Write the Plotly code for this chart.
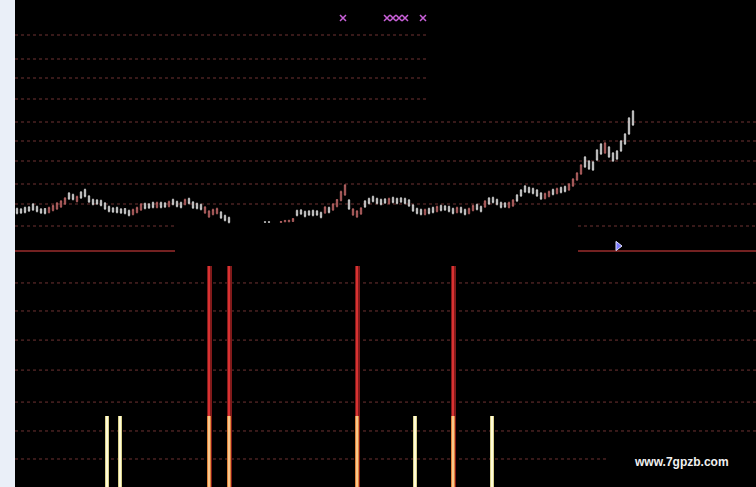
import plotly.graph_objects as go

# ---------------- data ----------------
idx = list(range(155))
N = None
opens = [9.15, 9.1, 9.25, 9.3, 9.6, 9.35, 9.1, 9.15, 8.75, 8.95,
         9.1, 9.3, 9.6, 10.7, 10.55, 9.85, 10.8, 11.05, 10.4, 10.05,
         10.0, 9.95, 9.7, 9.35, 9.2, 9.25, 9.1, 9.15, 8.95, 8.55,
         8.75, 9.0, 9.65, 9.6, 9.75, 9.25, 9.75, 9.7, 9.35, 10.05,
         9.85, 9.75, 9.55, 10.15, 9.8, 9.65, 9.55, 8.7, 8.3, 8.55,
         8.65, 8.8, 8.45, 8.25, N, N, N, N, N, N,
         N, N, 7.82, 7.82, N, N, 7.75, 7.82, 7.82, 7.85,
         8.95, 9.0, 8.85, 8.9, 8.95, 8.9, 8.75, 8.7, 9.25, 9.0,
         9.35, 9.95, 10.5, 10.0, 8.5, 8.3, 8.6, 9.9, 10.15, 10.35,
         10.15, 10.05, 10.1, 9.65, 10.25, 10.15, 10.2, 10.15, 10.0, 9.5,
         9.15, 9.05, 8.55, 9.15, 9.25, 8.85, 9.45, 9.4, 9.35, 9.15,
         8.75, 9.25, 9.05, 8.65, 8.95, 9.55, 9.35, 9.3, 10.2, 10.25,
         10.05, 9.75, 9.7, 9.25, 9.4, 10.5, 11.0, 11.4, 11.25, 11.15,
         11.0, 10.7, 10.15, 10.35, 11.05, 10.65, 11.25, 11.35, 11.0, 11.4,
         12.0, 12.6, 14.3, 13.9, 13.8, 15.0, 15.6, 14.7, 15.3, 14.7,
         14.9, 15.9, 16.6, 18.2, 18.9]
highs = [9.25, 9.2, 9.35, 9.4, 9.7, 9.45, 9.2, 9.2, 9.35, 9.55,
         9.8, 10.0, 10.3, 10.8, 10.65, 10.45, 10.9, 11.15, 10.5, 10.15,
         10.1, 10.05, 9.8, 9.45, 9.3, 9.35, 9.2, 9.2, 9.05, 9.15,
         9.35, 9.7, 9.75, 9.7, 9.85, 9.85, 9.85, 9.8, 9.95, 10.15,
         9.95, 9.85, 10.15, 10.25, 9.9, 9.75, 9.65, 9.4, 9.0, 9.15,
         9.25, 8.9, 8.55, 8.35, N, N, N, N, N, N,
         N, N, 7.85, 7.85, N, N, 7.9, 8.0, 8.0, 8.2,
         9.05, 9.1, 8.95, 9.0, 9.05, 9.0, 8.85, 9.4, 9.35, 9.7,
         10.1, 10.95, 11.6, 10.1, 9.2, 9.0, 9.3, 10.0, 10.25, 10.45,
         10.25, 10.15, 10.2, 10.25, 10.35, 10.25, 10.3, 10.25, 10.1, 9.6,
         9.25, 9.15, 9.15, 9.25, 9.35, 9.45, 9.55, 9.5, 9.45, 9.25,
         9.35, 9.35, 9.15, 9.25, 9.55, 9.65, 9.45, 10.0, 10.3, 10.35,
         10.15, 9.85, 9.8, 9.85, 10.1, 10.6, 11.1, 11.5, 11.35, 11.25,
         11.1, 10.8, 10.75, 10.95, 11.15, 11.25, 11.35, 11.45, 11.7, 12.2,
         12.8, 13.6, 14.4, 14.0, 13.9, 15.1, 15.7, 15.8, 15.4, 14.8,
         15.0, 16.0, 16.7, 18.3, 19.0]
lows = [8.55, 8.6, 8.65, 8.8, 8.9, 8.75, 8.6, 8.55, 8.65, 8.85,
        9.0, 9.2, 9.5, 10.0, 9.95, 9.75, 10.1, 10.25, 9.7, 9.45,
        9.5, 9.35, 9.0, 8.75, 8.7, 8.65, 8.6, 8.55, 8.35, 8.45,
        8.65, 8.9, 9.05, 9.1, 9.15, 9.15, 9.15, 9.2, 9.25, 9.45,
        9.25, 9.15, 9.45, 9.55, 9.1, 9.05, 8.95, 8.6, 8.2, 8.45,
        8.55, 8.1, 7.85, 7.65, N, N, N, N, N, N,
        N, N, 7.75, 7.75, N, N, 7.7, 7.78, 7.78, 7.8,
        8.35, 8.5, 8.25, 8.4, 8.35, 8.4, 8.15, 8.6, 8.65, 8.9,
        9.25, 9.85, 10.4, 9.0, 8.4, 8.2, 8.5, 9.2, 9.55, 9.75,
        9.55, 9.45, 9.6, 9.55, 9.65, 9.55, 9.7, 9.55, 9.3, 8.8,
        8.55, 8.45, 8.45, 8.55, 8.65, 8.75, 8.85, 8.9, 8.75, 8.55,
        8.65, 8.65, 8.45, 8.55, 8.85, 8.95, 8.75, 9.2, 9.5, 9.65,
        9.45, 9.15, 9.2, 9.15, 9.3, 9.8, 10.3, 10.7, 10.65, 10.55,
        10.3, 10.0, 10.05, 10.25, 10.45, 10.55, 10.65, 10.75, 10.9, 11.3,
        11.9, 12.5, 13.2, 13.0, 12.9, 13.9, 14.5, 14.6, 14.2, 13.8,
        14.0, 14.8, 15.5, 16.5, 17.4]
closes = [8.65, 8.7, 8.75, 8.9, 9.0, 8.85, 8.7, 8.65, 9.25, 9.45,
          9.7, 9.9, 10.2, 10.1, 10.05, 10.35, 10.2, 10.35, 9.8, 9.55,
          9.6, 9.45, 9.1, 8.85, 8.8, 8.75, 8.7, 8.65, 8.45, 9.05,
          9.25, 9.6, 9.15, 9.2, 9.25, 9.75, 9.25, 9.3, 9.85, 9.55,
          9.35, 9.25, 10.05, 9.65, 9.2, 9.15, 9.05, 9.3, 8.9, 9.05,
          9.15, 8.2, 7.95, 7.75, N, N, N, N, N, N,
          N, N, 7.78, 7.78, N, N, 7.85, 7.96, 7.98, 8.15,
          8.45, 8.6, 8.35, 8.5, 8.45, 8.5, 8.25, 9.3, 8.75, 9.6,
          10.05, 10.85, 11.5, 9.1, 9.1, 8.9, 9.2, 9.3, 9.65, 9.85,
          9.65, 9.55, 9.7, 10.15, 9.75, 9.65, 9.8, 9.65, 9.4, 8.9,
          8.65, 8.55, 9.05, 8.65, 8.75, 9.35, 8.95, 9.0, 8.85, 8.65,
          9.25, 8.75, 8.55, 9.15, 9.45, 9.05, 8.85, 9.9, 9.6, 9.75,
          9.55, 9.25, 9.3, 9.75, 10.0, 9.9, 10.4, 10.8, 10.75, 10.65,
          10.4, 10.1, 10.65, 10.85, 10.55, 11.15, 10.75, 10.85, 11.6, 12.1,
          12.7, 13.5, 13.3, 13.1, 13.0, 14.0, 14.6, 15.7, 14.3, 13.9,
          14.1, 14.9, 15.6, 16.6, 17.5]

# signal markers on top of the price panel
signal_x = [81.5, 92.5, 94, 95.5, 97, 101.5]
signal_y = [28.2, 28.2, 28.2, 28.2, 28.2, 28.2]
arrow_x = [150.25]
arrow_y = [5.4]

# lower panel: signal bars
red_x = [48, 53, 85, 109]
red_val = [100, 100, 100, 100]
orange_val = [32, 32, 32, 32]
yellow_x = [22.5, 25.75, 99.5, 118.75]
yellow_val = [32, 32, 32, 32]

# grid levels
upper_levels_short = [26.5, 24.1, 22.2, 20.1]
upper_levels_full = [17.8, 15.9, 13.9, 11.6, 9.6]
upper_levels_split = [7.4]
base_level = 4.9
lower_levels = [92.5, 79.8, 66.6, 53.0, 38.5, 25.4, 12.7]

X_MIN, X_MAX = -0.5, 184.75
SPLIT = 225 / 487

fig = go.Figure()

fig.add_trace(go.Candlestick(
    x=idx, open=opens, high=highs, low=lows, close=closes,
    increasing=dict(line=dict(color="#b86464", width=0.8), fillcolor="#a85555"),
    decreasing=dict(line=dict(color="#cfcfcf", width=0.8), fillcolor="#cfcfcf"),
    whiskerwidth=0, xaxis="x", yaxis="y", showlegend=False, hoverinfo="skip"))

fig.add_trace(go.Scatter(
    x=signal_x, y=signal_y, mode="markers", xaxis="x", yaxis="y",
    marker=dict(symbol="x-thin", size=6, color="#c860d8",
                line=dict(width=1.5, color="#c860d8")),
    showlegend=False, hoverinfo="skip"))
fig.add_trace(go.Scatter(
    x=arrow_x, y=arrow_y, mode="markers", xaxis="x", yaxis="y",
    marker=dict(symbol="triangle-right", size=8, color="#7a7aff",
                line=dict(width=1, color="#e0e0ff")),
    showlegend=False, hoverinfo="skip"))

# lower panel bars
fig.add_trace(go.Bar(x=red_x, y=red_val, width=1.25, marker=dict(color="#801a1a", line=dict(width=0)),
                     xaxis="x", yaxis="y2", showlegend=False, hoverinfo="skip"))
fig.add_trace(go.Bar(x=red_x, y=red_val, width=0.6, marker=dict(color="#d83232", line=dict(width=0)),
                     xaxis="x", yaxis="y2", showlegend=False, hoverinfo="skip"))
fig.add_trace(go.Bar(x=red_x, y=orange_val, width=1.0, marker=dict(color="#e0823a", line=dict(width=0)),
                     xaxis="x", yaxis="y2", showlegend=False, hoverinfo="skip"))
fig.add_trace(go.Bar(x=red_x, y=orange_val, width=0.45, marker=dict(color="#f8c88c", line=dict(width=0)),
                     xaxis="x", yaxis="y2", showlegend=False, hoverinfo="skip"))
fig.add_trace(go.Bar(x=yellow_x, y=yellow_val, width=0.8, marker=dict(color="#d8d08a", line=dict(width=0)),
                     xaxis="x", yaxis="y2", showlegend=False, hoverinfo="skip"))
fig.add_trace(go.Bar(x=yellow_x, y=yellow_val, width=0.4, marker=dict(color="#fffbd8", line=dict(width=0)),
                     xaxis="x", yaxis="y2", showlegend=False, hoverinfo="skip"))

GRID = dict(color="#6e3232", width=1, dash="dot")
shapes = []
for lv in upper_levels_short:
    shapes.append(dict(type="line", xref="x", yref="y", x0=X_MIN, x1=102.5, y0=lv, y1=lv, line=GRID, layer="below"))
for lv in upper_levels_full:
    shapes.append(dict(type="line", xref="x", yref="y", x0=X_MIN, x1=X_MAX, y0=lv, y1=lv, line=GRID, layer="below"))
for lv in upper_levels_split:
    shapes.append(dict(type="line", xref="x", yref="y", x0=X_MIN, x1=39.5, y0=lv, y1=lv, line=GRID, layer="below"))
    shapes.append(dict(type="line", xref="x", yref="y", x0=140.25, x1=X_MAX, y0=lv, y1=lv, line=GRID, layer="below"))
for (a, b) in [(X_MIN, 39.5), (140.25, X_MAX)]:
    shapes.append(dict(type="line", xref="x", yref="y", x0=a, x1=b, y0=base_level, y1=base_level,
                       line=dict(color="#9a2c2c", width=1.5), layer="below"))
for lv in lower_levels:
    end = 147.75 if lv < 20 else X_MAX
    shapes.append(dict(type="line", xref="x", yref="y2", x0=X_MIN, x1=end, y0=lv, y1=lv, line=GRID, layer="below"))

fig.update_layout(
    width=756, height=487,
    margin=dict(l=15, r=0, t=0, b=0),
    paper_bgcolor="#eaeff8",
    plot_bgcolor="#000000",
    barmode="overlay",
    bargap=0,
    boxgap=0.5,
    shapes=shapes,
    xaxis=dict(range=[X_MIN, X_MAX], visible=False, showgrid=False, zeroline=False,
               rangeslider=dict(visible=False), fixedrange=True),
    yaxis=dict(domain=[SPLIT, 1], range=[3.8, 30], visible=False, showgrid=False, zeroline=False),
    yaxis2=dict(domain=[0, SPLIT], range=[0, 102], visible=False, showgrid=False, zeroline=False),
    annotations=[dict(text="<b>www.7gpzb.com</b>", xref="paper", yref="paper",
                      x=0.9, y=0.051, xanchor="center", yanchor="middle", showarrow=False,
                      font=dict(family="Liberation Sans, Arial, sans-serif", size=12, color="#f0f0f0"))],
    showlegend=False,
)

fig.write_html("out.html", config={"displayModeBar": False},
               post_script="document.body.style.margin='0';")
